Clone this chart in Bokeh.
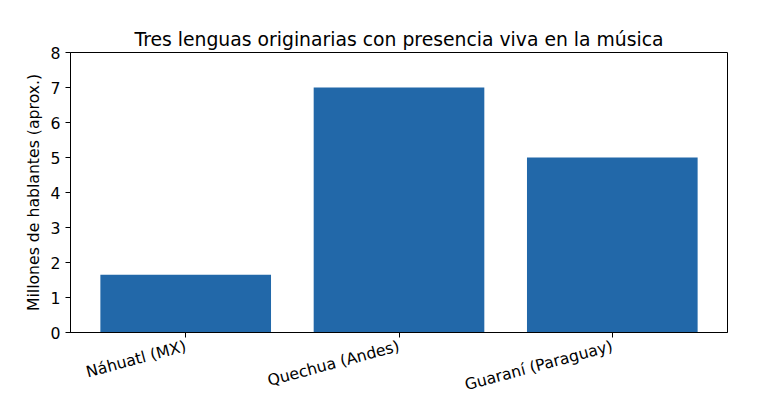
import math

from bokeh.embed import file_html
from bokeh.models import FixedTicker
from bokeh.plotting import figure
from bokeh.resources import INLINE

lenguas = ["Náhuatl (MX)", "Quechua (Andes)", "Guaraní (Paraguay)"]
hablantes = [1.65, 7.0, 5.0]
y_ticks = [0, 1, 2, 3, 4, 5, 6, 7, 8]

p = figure(
    x_range=lenguas, y_range=(0, 8),
    width=755, height=406,
    output_backend="svg", toolbar_location=None,
    title="Tres lenguas originarias con presencia viva en la música",
    min_border_left=70, min_border_right=28,
    min_border_top=52, min_border_bottom=74)
p.x_range.range_padding = 0.0267
p.vbar(x=lenguas, top=hablantes, width=0.8,
       fill_color="#2268a9", line_color=None)

p.title.align = "center"
p.title.text_font = "DejaVu Sans"
p.title.text_font_size = "18.8px"
p.title.text_font_style = "normal"
p.title.text_color = "black"
p.title.standoff = 6

p.xgrid.visible = False
p.ygrid.visible = False
p.outline_line_color = "black"
p.outline_line_width = 1

for ax in (p.xaxis, p.yaxis):
    ax.major_tick_in = 0
    ax.major_tick_out = 5
    ax.minor_tick_line_color = None
    ax.axis_line_color = "black"
    ax.major_tick_line_color = "black"
    ax.major_label_text_font = "DejaVu Sans"
    ax.major_label_text_font_size = "15.7px"
    ax.major_label_text_color = "black"
    ax.major_label_standoff = 5

p.yaxis.ticker = FixedTicker(ticks=y_ticks)
p.yaxis.axis_label = "Millones de hablantes (aprox.)"
p.yaxis.axis_label_text_font = "DejaVu Sans"
p.yaxis.axis_label_text_font_size = "15.7px"
p.yaxis.axis_label_text_font_style = "normal"
p.yaxis.axis_label_text_color = "black"
p.yaxis.axis_label_standoff = 5
p.xaxis.major_label_orientation = math.radians(15)
p.xaxis.major_label_standoff = 8

open("out.html", "w").write(file_html(p, INLINE))
